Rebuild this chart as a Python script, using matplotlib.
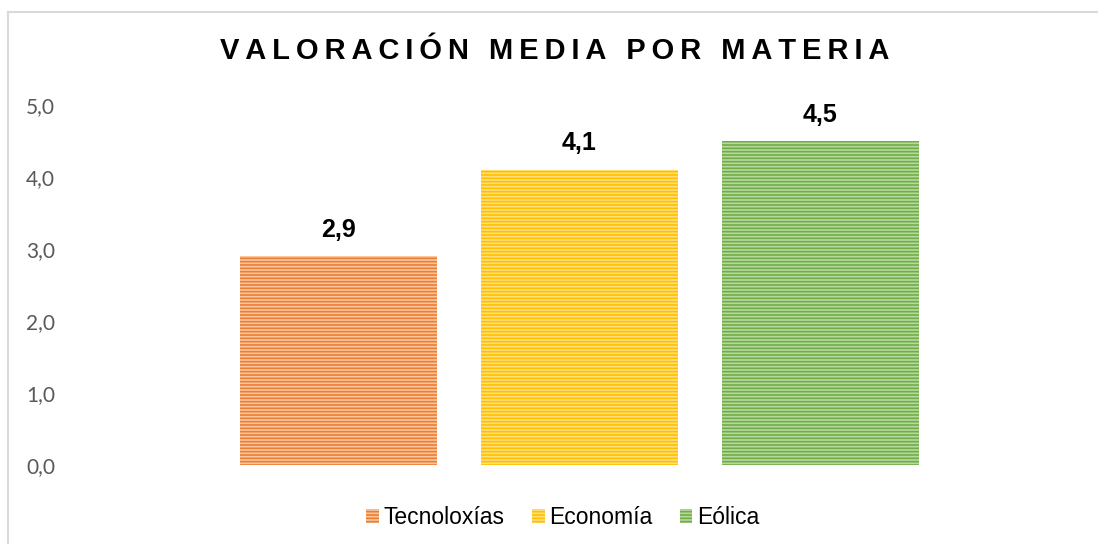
import matplotlib
matplotlib.use("Agg")
import matplotlib.pyplot as plt
from matplotlib.patches import Rectangle
from matplotlib.lines import Line2D

categories = ["Tecnoloxías", "Economía", "Eólica"]
values = [2.9, 4.1, 4.5]
value_labels = ["2,9", "4,1", "4,5"]
yticks = [0.0, 1.0, 2.0, 3.0, 4.0, 5.0]
ytick_labels = ["0,0", "1,0", "2,0", "3,0", "4,0", "5,0"]
title = "VALORACIÓN MEDIA POR MATERIA"

face_colors = ["#F9C7A1", "#FFDF80", "#B7D9A0"]
stripe_colors = ["#ED7D31", "#FFC000", "#70AD47"]
HATCH = "-----"

plt.rcParams["hatch.linewidth"] = 1.2

fig = plt.figure(figsize=(10.98, 5.44), dpi=100)
fig.patch.set_facecolor("white")

# outer frame (top and left visible)
fig.add_artist(Line2D([8 / 1098, 8 / 1098], [0, 1 - 12 / 544], transform=fig.transFigure,
                      color="#D9D9D9", lw=1.5))
fig.add_artist(Line2D([8 / 1098, 1], [1 - 12 / 544, 1 - 12 / 544], transform=fig.transFigure,
                      color="#D9D9D9", lw=1.5))

ax = fig.add_axes([98 / 1098, 1 - 465 / 544, (1061 - 98) / 1098, (465 - 105) / 544])
for i, (v, fc, sc) in enumerate(zip(values, face_colors, stripe_colors)):
    ax.bar(i, v, width=0.82, color=fc, edgecolor=sc, hatch=HATCH, linewidth=0)
    ax.text(i, v + 0.2, value_labels[i], ha="center", va="bottom", fontsize=18,
            fontweight="bold", family="Liberation Sans", color="black")

ax.set_xlim(-1, 3)
ax.set_ylim(0, 5)
ax.set_yticks(yticks)
ax.set_yticklabels(ytick_labels, family="Lato", fontsize=15, color="#595959")
ax.set_xticks([])
ax.tick_params(axis="y", length=0, pad=31)
for s in ax.spines.values():
    s.set_visible(False)

spaced_title = "\u2009 \u2009".join("\u2009".join(w) for w in title.split(" "))
fig.text(555 / 1098, 1 - 51 / 544, spaced_title,
         ha="center", va="center", fontsize=21, fontweight="bold",
         family=["Liberation Sans", "DejaVu Sans"], color="black")

handles = [Rectangle((0, 0), 1, 1, facecolor=fc, edgecolor=sc, hatch=HATCH, linewidth=0)
           for fc, sc in zip(face_colors, stripe_colors)]
fig.legend(handles, categories, loc="center", bbox_to_anchor=(563 / 1098, 1 - 518 / 544),
           ncol=3, frameon=False, prop={"family": "Liberation Sans", "size": 16.5},
           handlelength=0.55, handleheight=0.55, handletextpad=0.22, columnspacing=1.18,
           borderpad=0)

fig.savefig("out.png", dpi=100, facecolor="white")
